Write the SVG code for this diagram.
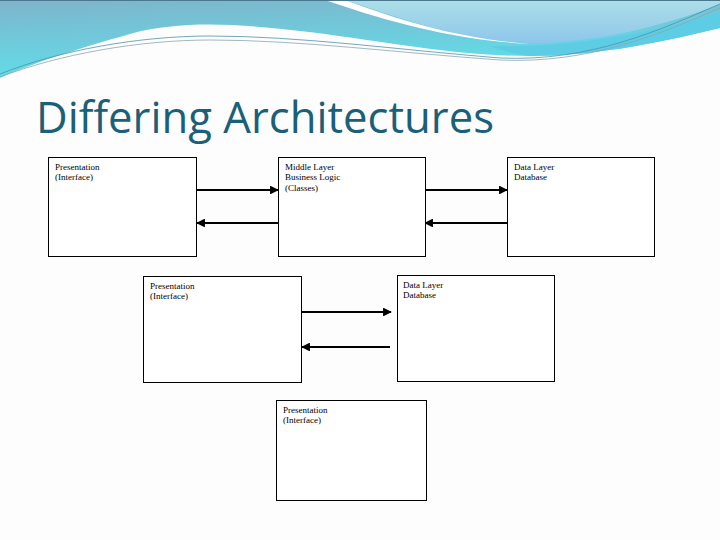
<svg xmlns="http://www.w3.org/2000/svg" width="720" height="540" viewBox="0 0 720 540">
<defs>
<linearGradient id="band" x1="0" y1="0" x2="0.3" y2="1">
<stop offset="0" stop-color="#7fb4cb"/>
<stop offset="1" stop-color="#5fe0ea"/>
</linearGradient>
<linearGradient id="light" x1="0" y1="0" x2="0" y2="1">
<stop offset="0" stop-color="#acdfe6"/>
<stop offset="1" stop-color="#8ec6ec"/>
</linearGradient>
<marker id="ah" viewBox="0 0 10 10" refX="9" refY="5" markerWidth="4" markerHeight="4" orient="auto" markerUnits="strokeWidth">
<path d="M0,0 L10,5 L0,10 Z" fill="#000"/>
</marker>
<style>
.box{fill:#fff;stroke:#000;stroke-width:1}
.lbl{font-family:"Liberation Serif","Times New Roman",serif;font-size:9px;fill:#000}
.arr{stroke:#000;stroke-width:2.2;fill:none;marker-end:url(#ah)}
.title{font-family:"Open Sans","Noto Sans","Liberation Sans",sans-serif;font-size:44px;fill:#1a6079}
</style>
</defs>
<rect width="720" height="540" fill="#fdfdfd"/>
<g id="decoration">
<path d="M0,0 H720 V28 C650,45 590,56 530,56 C450,56 380,40 300,31 C240,24 180,20 130,34 C80,48 30,64 0,78 Z" fill="url(#band)"/>
<path d="M345,0 H720 V4 C660,28 600,40 545,43 C475,44 420,25 345,0 Z" fill="url(#light)"/>
<path d="M325,0 H345 C410,24 460,38 530,44 C460,40 400,26 325,0 Z" fill="#fff"/>
<path d="M490,46 C570,48 650,34 720,12 V28 C650,45 590,56 530,56 C515,54 500,50 490,46 Z" fill="#5ccde4"/>
<path d="M0,74 C60,50 140,36 210,36 C300,36 400,50 500,58 C590,62 660,30 720,4" fill="none" stroke="#4f93ac" stroke-width="0.8"/>
<path d="M0,77 C60,54 140,40 210,40 C300,40 400,53 500,60 C590,64 660,34 720,8" fill="none" stroke="#8aa7b3" stroke-width="0.8"/>
<line x1="0" y1="0.5" x2="720" y2="0.5" stroke="#4a7890" stroke-width="1"/>
</g>
<text class="title" x="36" y="133" textLength="458" lengthAdjust="spacingAndGlyphs">Differing Architectures</text>
<g id="connectors">
<line class="arr" x1="197" y1="190" x2="278" y2="190"/>
<line class="arr" x1="278" y1="223" x2="197" y2="223"/>
<line class="arr" x1="425" y1="190" x2="507" y2="190"/>
<line class="arr" x1="507" y1="223" x2="425" y2="223"/>
<line class="arr" x1="302" y1="312" x2="391" y2="312"/>
<line class="arr" x1="390" y1="347" x2="302" y2="347"/>
</g>
<g id="presentation1">
<rect class="box" x="48.5" y="157.5" width="148" height="99"/>
<text class="lbl" x="55" y="170">Presentation</text>
<text class="lbl" x="55" y="180">(Interface)</text>
</g>
<g id="middle1">
<rect class="box" x="278.5" y="157.5" width="147" height="99"/>
<text class="lbl" x="285" y="170">Middle Layer</text>
<text class="lbl" x="285" y="180">Business Logic</text>
<text class="lbl" x="285" y="191">(Classes)</text>
</g>
<g id="data1">
<rect class="box" x="507.5" y="157.5" width="147" height="99"/>
<text class="lbl" x="514" y="170">Data Layer</text>
<text class="lbl" x="514" y="180">Database</text>
</g>
<g id="presentation2">
<rect class="box" x="143.5" y="276.5" width="158" height="106"/>
<text class="lbl" x="150" y="289">Presentation</text>
<text class="lbl" x="150" y="299">(Interface)</text>
</g>
<g id="data2">
<rect class="box" x="397.5" y="275.5" width="157" height="106"/>
<text class="lbl" x="403" y="288">Data Layer</text>
<text class="lbl" x="403" y="298">Database</text>
</g>
<g id="presentation3">
<rect class="box" x="276.5" y="400.5" width="150" height="100"/>
<text class="lbl" x="283" y="413">Presentation</text>
<text class="lbl" x="283" y="423">(Interface)</text>
</g>
</svg>
